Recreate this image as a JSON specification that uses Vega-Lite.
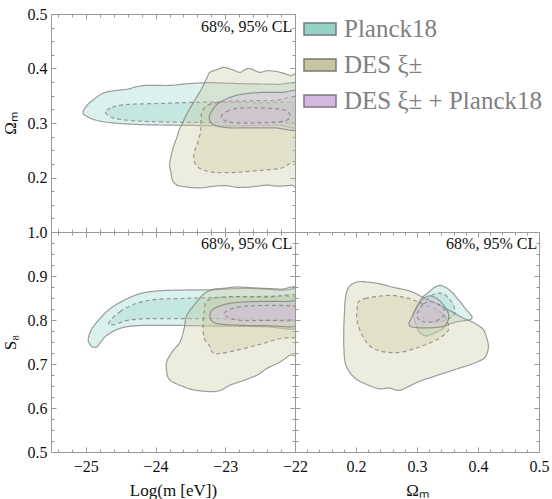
{
  "$schema": "https://vega.github.io/schema/vega-lite/v6.json",
  "background": "white",
  "padding": {"left": 0, "top": 5, "right": 0, "bottom": 0},
  "spacing": 0,
  "bounds": "flush",
  "config": {
    "font": "Liberation Serif",
    "view": {"stroke": "#9a9a9a", "strokeWidth": 1},
    "axis": {"grid": false, "domain": false, "tickColor": "#9a9a9a", "tickWidth": 1, "labelFont": "Liberation Serif", "labelFontSize": 16, "labelColor": "#111111", "titleFont": "Liberation Serif", "titleFontSize": 17, "titleFontWeight": "normal", "titleColor": "#111111", "labelFlush": false, "labelOverlap": false}
  },
  "datasets": {
    "notes": [
      {"panel": "A", "x": -22.04, "y": 0.467, "text": "68%, 95% CL"},
      {"panel": "B", "x": -22.04, "y": 0.961, "text": "68%, 95% CL"},
      {"panel": "C", "x": 0.497, "y": 0.961, "text": "68%, 95% CL"}
    ],
    "contours": [
      {"panel":"A","set":"Planck18","level":"95","i":0,"x":-25.04,"y":0.320},
      {"panel":"A","set":"Planck18","level":"95","i":1,"x":-24.98,"y":0.333},
      {"panel":"A","set":"Planck18","level":"95","i":2,"x":-24.87,"y":0.345},
      {"panel":"A","set":"Planck18","level":"95","i":3,"x":-24.75,"y":0.355},
      {"panel":"A","set":"Planck18","level":"95","i":4,"x":-24.61,"y":0.359},
      {"panel":"A","set":"Planck18","level":"95","i":5,"x":-24.41,"y":0.362},
      {"panel":"A","set":"Planck18","level":"95","i":6,"x":-24.26,"y":0.367},
      {"panel":"A","set":"Planck18","level":"95","i":7,"x":-24.12,"y":0.369},
      {"panel":"A","set":"Planck18","level":"95","i":8,"x":-23.79,"y":0.369},
      {"panel":"A","set":"Planck18","level":"95","i":9,"x":-23.55,"y":0.372},
      {"panel":"A","set":"Planck18","level":"95","i":10,"x":-23.22,"y":0.374},
      {"panel":"A","set":"Planck18","level":"95","i":11,"x":-22.73,"y":0.372},
      {"panel":"A","set":"Planck18","level":"95","i":12,"x":-22.26,"y":0.371},
      {"panel":"A","set":"Planck18","level":"95","i":13,"x":-21.9,"y":0.368},
      {"panel":"A","set":"Planck18","level":"95","i":14,"x":-21.9,"y":0.296},
      {"panel":"A","set":"Planck18","level":"95","i":15,"x":-22.26,"y":0.296},
      {"panel":"A","set":"Planck18","level":"95","i":16,"x":-22.73,"y":0.295},
      {"panel":"A","set":"Planck18","level":"95","i":17,"x":-23.2,"y":0.295},
      {"panel":"A","set":"Planck18","level":"95","i":18,"x":-23.7,"y":0.296},
      {"panel":"A","set":"Planck18","level":"95","i":19,"x":-24.2,"y":0.297},
      {"panel":"A","set":"Planck18","level":"95","i":20,"x":-24.6,"y":0.300},
      {"panel":"A","set":"Planck18","level":"95","i":21,"x":-24.85,"y":0.305},
      {"panel":"A","set":"Planck18","level":"95","i":22,"x":-25.0,"y":0.313},

      {"panel":"A","set":"Planck18","level":"68","i":0,"x":-24.72,"y":0.320},
      {"panel":"A","set":"Planck18","level":"68","i":1,"x":-24.62,"y":0.329},
      {"panel":"A","set":"Planck18","level":"68","i":2,"x":-24.4,"y":0.334},
      {"panel":"A","set":"Planck18","level":"68","i":3,"x":-23.9,"y":0.336},
      {"panel":"A","set":"Planck18","level":"68","i":4,"x":-23.4,"y":0.338},
      {"panel":"A","set":"Planck18","level":"68","i":5,"x":-22.9,"y":0.338},
      {"panel":"A","set":"Planck18","level":"68","i":6,"x":-22.4,"y":0.337},
      {"panel":"A","set":"Planck18","level":"68","i":7,"x":-21.9,"y":0.336},
      {"panel":"A","set":"Planck18","level":"68","i":8,"x":-21.9,"y":0.303},
      {"panel":"A","set":"Planck18","level":"68","i":9,"x":-22.4,"y":0.302},
      {"panel":"A","set":"Planck18","level":"68","i":10,"x":-22.9,"y":0.301},
      {"panel":"A","set":"Planck18","level":"68","i":11,"x":-23.4,"y":0.301},
      {"panel":"A","set":"Planck18","level":"68","i":12,"x":-23.9,"y":0.302},
      {"panel":"A","set":"Planck18","level":"68","i":13,"x":-24.3,"y":0.304},
      {"panel":"A","set":"Planck18","level":"68","i":14,"x":-24.6,"y":0.309},

      {"panel":"A","set":"DES ξ±","level":"95","i":0,"x":-23.26,"y":0.384},
      {"panel":"A","set":"DES ξ±","level":"95","i":1,"x":-23.22,"y":0.393},
      {"panel":"A","set":"DES ξ±","level":"95","i":2,"x":-23.12,"y":0.398},
      {"panel":"A","set":"DES ξ±","level":"95","i":3,"x":-23.02,"y":0.402},
      {"panel":"A","set":"DES ξ±","level":"95","i":4,"x":-22.9,"y":0.398},
      {"panel":"A","set":"DES ξ±","level":"95","i":5,"x":-22.79,"y":0.393},
      {"panel":"A","set":"DES ξ±","level":"95","i":6,"x":-22.72,"y":0.398},
      {"panel":"A","set":"DES ξ±","level":"95","i":7,"x":-22.65,"y":0.400},
      {"panel":"A","set":"DES ξ±","level":"95","i":8,"x":-22.57,"y":0.396},
      {"panel":"A","set":"DES ξ±","level":"95","i":9,"x":-22.5,"y":0.393},
      {"panel":"A","set":"DES ξ±","level":"95","i":10,"x":-22.4,"y":0.396},
      {"panel":"A","set":"DES ξ±","level":"95","i":11,"x":-22.3,"y":0.395},
      {"panel":"A","set":"DES ξ±","level":"95","i":12,"x":-22.21,"y":0.393},
      {"panel":"A","set":"DES ξ±","level":"95","i":13,"x":-22.07,"y":0.387},
      {"panel":"A","set":"DES ξ±","level":"95","i":14,"x":-21.9,"y":0.375},
      {"panel":"A","set":"DES ξ±","level":"95","i":15,"x":-21.9,"y":0.190},
      {"panel":"A","set":"DES ξ±","level":"95","i":16,"x":-22.05,"y":0.186},
      {"panel":"A","set":"DES ξ±","level":"95","i":17,"x":-22.26,"y":0.184},
      {"panel":"A","set":"DES ξ±","level":"95","i":18,"x":-22.4,"y":0.186},
      {"panel":"A","set":"DES ξ±","level":"95","i":19,"x":-22.54,"y":0.184},
      {"panel":"A","set":"DES ξ±","level":"95","i":20,"x":-22.7,"y":0.182},
      {"panel":"A","set":"DES ξ±","level":"95","i":21,"x":-22.83,"y":0.182},
      {"panel":"A","set":"DES ξ±","level":"95","i":22,"x":-23.0,"y":0.185},
      {"panel":"A","set":"DES ξ±","level":"95","i":23,"x":-23.16,"y":0.184},
      {"panel":"A","set":"DES ξ±","level":"95","i":24,"x":-23.35,"y":0.181},
      {"panel":"A","set":"DES ξ±","level":"95","i":25,"x":-23.51,"y":0.182},
      {"panel":"A","set":"DES ξ±","level":"95","i":26,"x":-23.69,"y":0.186},
      {"panel":"A","set":"DES ξ±","level":"95","i":27,"x":-23.76,"y":0.196},
      {"panel":"A","set":"DES ξ±","level":"95","i":28,"x":-23.78,"y":0.210},
      {"panel":"A","set":"DES ξ±","level":"95","i":29,"x":-23.8,"y":0.222},
      {"panel":"A","set":"DES ξ±","level":"95","i":30,"x":-23.78,"y":0.238},
      {"panel":"A","set":"DES ξ±","level":"95","i":31,"x":-23.74,"y":0.258},
      {"panel":"A","set":"DES ξ±","level":"95","i":32,"x":-23.69,"y":0.275},
      {"panel":"A","set":"DES ξ±","level":"95","i":33,"x":-23.66,"y":0.288},
      {"panel":"A","set":"DES ξ±","level":"95","i":34,"x":-23.62,"y":0.298},
      {"panel":"A","set":"DES ξ±","level":"95","i":35,"x":-23.57,"y":0.312},
      {"panel":"A","set":"DES ξ±","level":"95","i":36,"x":-23.52,"y":0.324},
      {"panel":"A","set":"DES ξ±","level":"95","i":37,"x":-23.46,"y":0.337},
      {"panel":"A","set":"DES ξ±","level":"95","i":38,"x":-23.4,"y":0.350},
      {"panel":"A","set":"DES ξ±","level":"95","i":39,"x":-23.33,"y":0.365},

      {"panel":"A","set":"DES ξ±","level":"68","i":0,"x":-23.33,"y":0.322},
      {"panel":"A","set":"DES ξ±","level":"68","i":1,"x":-23.25,"y":0.333},
      {"panel":"A","set":"DES ξ±","level":"68","i":2,"x":-23.1,"y":0.338},
      {"panel":"A","set":"DES ξ±","level":"68","i":3,"x":-22.9,"y":0.340},
      {"panel":"A","set":"DES ξ±","level":"68","i":4,"x":-22.6,"y":0.341},
      {"panel":"A","set":"DES ξ±","level":"68","i":5,"x":-22.3,"y":0.341},
      {"panel":"A","set":"DES ξ±","level":"68","i":6,"x":-21.9,"y":0.341},
      {"panel":"A","set":"DES ξ±","level":"68","i":7,"x":-21.9,"y":0.240},
      {"panel":"A","set":"DES ξ±","level":"68","i":8,"x":-22.05,"y":0.228},
      {"panel":"A","set":"DES ξ±","level":"68","i":9,"x":-22.2,"y":0.217},
      {"panel":"A","set":"DES ξ±","level":"68","i":10,"x":-22.5,"y":0.213},
      {"panel":"A","set":"DES ξ±","level":"68","i":11,"x":-22.9,"y":0.209},
      {"panel":"A","set":"DES ξ±","level":"68","i":12,"x":-23.2,"y":0.210},
      {"panel":"A","set":"DES ξ±","level":"68","i":13,"x":-23.38,"y":0.218},
      {"panel":"A","set":"DES ξ±","level":"68","i":14,"x":-23.45,"y":0.232},
      {"panel":"A","set":"DES ξ±","level":"68","i":15,"x":-23.44,"y":0.248},
      {"panel":"A","set":"DES ξ±","level":"68","i":16,"x":-23.38,"y":0.270},
      {"panel":"A","set":"DES ξ±","level":"68","i":17,"x":-23.35,"y":0.290},
      {"panel":"A","set":"DES ξ±","level":"68","i":18,"x":-23.35,"y":0.308},

      {"panel":"A","set":"DES ξ± + Planck18","level":"95","i":0,"x":-23.23,"y":0.311},
      {"panel":"A","set":"DES ξ± + Planck18","level":"95","i":1,"x":-23.18,"y":0.325},
      {"panel":"A","set":"DES ξ± + Planck18","level":"95","i":2,"x":-23.1,"y":0.336},
      {"panel":"A","set":"DES ξ± + Planck18","level":"95","i":3,"x":-22.93,"y":0.347},
      {"panel":"A","set":"DES ξ± + Planck18","level":"95","i":4,"x":-22.75,"y":0.353},
      {"panel":"A","set":"DES ξ± + Planck18","level":"95","i":5,"x":-22.5,"y":0.356},
      {"panel":"A","set":"DES ξ± + Planck18","level":"95","i":6,"x":-22.21,"y":0.356},
      {"panel":"A","set":"DES ξ± + Planck18","level":"95","i":7,"x":-21.9,"y":0.355},
      {"panel":"A","set":"DES ξ± + Planck18","level":"95","i":8,"x":-21.9,"y":0.291},
      {"panel":"A","set":"DES ξ± + Planck18","level":"95","i":9,"x":-22.3,"y":0.291},
      {"panel":"A","set":"DES ξ± + Planck18","level":"95","i":10,"x":-22.7,"y":0.291},
      {"panel":"A","set":"DES ξ± + Planck18","level":"95","i":11,"x":-22.93,"y":0.291},
      {"panel":"A","set":"DES ξ± + Planck18","level":"95","i":12,"x":-23.1,"y":0.294},
      {"panel":"A","set":"DES ξ± + Planck18","level":"95","i":13,"x":-23.2,"y":0.300},

      {"panel":"A","set":"DES ξ± + Planck18","level":"68","i":0,"x":-23.06,"y":0.312},
      {"panel":"A","set":"DES ξ± + Planck18","level":"68","i":1,"x":-22.98,"y":0.321},
      {"panel":"A","set":"DES ξ± + Planck18","level":"68","i":2,"x":-22.83,"y":0.327},
      {"panel":"A","set":"DES ξ± + Planck18","level":"68","i":3,"x":-22.6,"y":0.328},
      {"panel":"A","set":"DES ξ± + Planck18","level":"68","i":4,"x":-22.35,"y":0.327},
      {"panel":"A","set":"DES ξ± + Planck18","level":"68","i":5,"x":-22.16,"y":0.324},
      {"panel":"A","set":"DES ξ± + Planck18","level":"68","i":6,"x":-22.07,"y":0.315},
      {"panel":"A","set":"DES ξ± + Planck18","level":"68","i":7,"x":-22.12,"y":0.305},
      {"panel":"A","set":"DES ξ± + Planck18","level":"68","i":8,"x":-22.3,"y":0.301},
      {"panel":"A","set":"DES ξ± + Planck18","level":"68","i":9,"x":-22.6,"y":0.300},
      {"panel":"A","set":"DES ξ± + Planck18","level":"68","i":10,"x":-22.85,"y":0.300},
      {"panel":"A","set":"DES ξ± + Planck18","level":"68","i":11,"x":-23.0,"y":0.304},

      {"panel":"B","set":"Planck18","level":"95","i":0,"x":-24.91,"y":0.739},
      {"panel":"B","set":"Planck18","level":"95","i":1,"x":-24.96,"y":0.750},
      {"panel":"B","set":"Planck18","level":"95","i":2,"x":-24.96,"y":0.762},
      {"panel":"B","set":"Planck18","level":"95","i":3,"x":-24.91,"y":0.781},
      {"panel":"B","set":"Planck18","level":"95","i":4,"x":-24.8,"y":0.803},
      {"panel":"B","set":"Planck18","level":"95","i":5,"x":-24.65,"y":0.826},
      {"panel":"B","set":"Planck18","level":"95","i":6,"x":-24.45,"y":0.845},
      {"panel":"B","set":"Planck18","level":"95","i":7,"x":-24.22,"y":0.860},
      {"panel":"B","set":"Planck18","level":"95","i":8,"x":-23.98,"y":0.866},
      {"panel":"B","set":"Planck18","level":"95","i":9,"x":-23.65,"y":0.868},
      {"panel":"B","set":"Planck18","level":"95","i":10,"x":-23.16,"y":0.869},
      {"panel":"B","set":"Planck18","level":"95","i":11,"x":-22.69,"y":0.872},
      {"panel":"B","set":"Planck18","level":"95","i":12,"x":-22.21,"y":0.868},
      {"panel":"B","set":"Planck18","level":"95","i":13,"x":-21.9,"y":0.864},
      {"panel":"B","set":"Planck18","level":"95","i":14,"x":-21.9,"y":0.785},
      {"panel":"B","set":"Planck18","level":"95","i":15,"x":-22.44,"y":0.785},
      {"panel":"B","set":"Planck18","level":"95","i":16,"x":-22.93,"y":0.786},
      {"panel":"B","set":"Planck18","level":"95","i":17,"x":-23.41,"y":0.787},
      {"panel":"B","set":"Planck18","level":"95","i":18,"x":-23.88,"y":0.788},
      {"panel":"B","set":"Planck18","level":"95","i":19,"x":-24.27,"y":0.787},
      {"panel":"B","set":"Planck18","level":"95","i":20,"x":-24.51,"y":0.781},
      {"panel":"B","set":"Planck18","level":"95","i":21,"x":-24.7,"y":0.765},
      {"panel":"B","set":"Planck18","level":"95","i":22,"x":-24.8,"y":0.747},
      {"panel":"B","set":"Planck18","level":"95","i":23,"x":-24.84,"y":0.739},

      {"panel":"B","set":"Planck18","level":"68","i":0,"x":-24.67,"y":0.794},
      {"panel":"B","set":"Planck18","level":"68","i":1,"x":-24.51,"y":0.819},
      {"panel":"B","set":"Planck18","level":"68","i":2,"x":-24.27,"y":0.838},
      {"panel":"B","set":"Planck18","level":"68","i":3,"x":-23.98,"y":0.847},
      {"panel":"B","set":"Planck18","level":"68","i":4,"x":-23.59,"y":0.849},
      {"panel":"B","set":"Planck18","level":"68","i":5,"x":-23.16,"y":0.851},
      {"panel":"B","set":"Planck18","level":"68","i":6,"x":-22.69,"y":0.853},
      {"panel":"B","set":"Planck18","level":"68","i":7,"x":-21.9,"y":0.849},
      {"panel":"B","set":"Planck18","level":"68","i":8,"x":-21.9,"y":0.800},
      {"panel":"B","set":"Planck18","level":"68","i":9,"x":-22.69,"y":0.802},
      {"panel":"B","set":"Planck18","level":"68","i":10,"x":-23.16,"y":0.803},
      {"panel":"B","set":"Planck18","level":"68","i":11,"x":-23.65,"y":0.803},
      {"panel":"B","set":"Planck18","level":"68","i":12,"x":-24.12,"y":0.803},
      {"panel":"B","set":"Planck18","level":"68","i":13,"x":-24.41,"y":0.799},
      {"panel":"B","set":"Planck18","level":"68","i":14,"x":-24.6,"y":0.789},

      {"panel":"B","set":"DES ξ±","level":"95","i":0,"x":-23.3,"y":0.860},
      {"panel":"B","set":"DES ξ±","level":"95","i":1,"x":-23.16,"y":0.870},
      {"panel":"B","set":"DES ξ±","level":"95","i":2,"x":-23.02,"y":0.872},
      {"panel":"B","set":"DES ξ±","level":"95","i":3,"x":-22.85,"y":0.875},
      {"panel":"B","set":"DES ξ±","level":"95","i":4,"x":-22.69,"y":0.874},
      {"panel":"B","set":"DES ξ±","level":"95","i":5,"x":-22.45,"y":0.872},
      {"panel":"B","set":"DES ξ±","level":"95","i":6,"x":-22.21,"y":0.870},
      {"panel":"B","set":"DES ξ±","level":"95","i":7,"x":-21.9,"y":0.864},
      {"panel":"B","set":"DES ξ±","level":"95","i":8,"x":-21.9,"y":0.730},
      {"panel":"B","set":"DES ξ±","level":"95","i":9,"x":-22.07,"y":0.720},
      {"panel":"B","set":"DES ξ±","level":"95","i":10,"x":-22.21,"y":0.705},
      {"panel":"B","set":"DES ξ±","level":"95","i":11,"x":-22.4,"y":0.690},
      {"panel":"B","set":"DES ξ±","level":"95","i":12,"x":-22.54,"y":0.675},
      {"panel":"B","set":"DES ξ±","level":"95","i":13,"x":-22.73,"y":0.663},
      {"panel":"B","set":"DES ξ±","level":"95","i":14,"x":-22.93,"y":0.652},
      {"panel":"B","set":"DES ξ±","level":"95","i":15,"x":-23.12,"y":0.638},
      {"panel":"B","set":"DES ξ±","level":"95","i":16,"x":-23.41,"y":0.640},
      {"panel":"B","set":"DES ξ±","level":"95","i":17,"x":-23.59,"y":0.648},
      {"panel":"B","set":"DES ξ±","level":"95","i":18,"x":-23.79,"y":0.663},
      {"panel":"B","set":"DES ξ±","level":"95","i":19,"x":-23.84,"y":0.682},
      {"panel":"B","set":"DES ξ±","level":"95","i":20,"x":-23.84,"y":0.705},
      {"panel":"B","set":"DES ξ±","level":"95","i":21,"x":-23.76,"y":0.728},
      {"panel":"B","set":"DES ξ±","level":"95","i":22,"x":-23.65,"y":0.750},
      {"panel":"B","set":"DES ξ±","level":"95","i":23,"x":-23.59,"y":0.781},
      {"panel":"B","set":"DES ξ±","level":"95","i":24,"x":-23.55,"y":0.811},
      {"panel":"B","set":"DES ξ±","level":"95","i":25,"x":-23.41,"y":0.841},

      {"panel":"B","set":"DES ξ±","level":"68","i":0,"x":-23.26,"y":0.844},
      {"panel":"B","set":"DES ξ±","level":"68","i":1,"x":-23.05,"y":0.852},
      {"panel":"B","set":"DES ξ±","level":"68","i":2,"x":-22.83,"y":0.853},
      {"panel":"B","set":"DES ξ±","level":"68","i":3,"x":-22.4,"y":0.852},
      {"panel":"B","set":"DES ξ±","level":"68","i":4,"x":-21.9,"y":0.851},
      {"panel":"B","set":"DES ξ±","level":"68","i":5,"x":-21.9,"y":0.769},
      {"panel":"B","set":"DES ξ±","level":"68","i":6,"x":-22.21,"y":0.758},
      {"panel":"B","set":"DES ξ±","level":"68","i":7,"x":-22.54,"y":0.743},
      {"panel":"B","set":"DES ξ±","level":"68","i":8,"x":-22.93,"y":0.728},
      {"panel":"B","set":"DES ξ±","level":"68","i":9,"x":-23.16,"y":0.724},
      {"panel":"B","set":"DES ξ±","level":"68","i":10,"x":-23.23,"y":0.742},
      {"panel":"B","set":"DES ξ±","level":"68","i":11,"x":-23.3,"y":0.758},
      {"panel":"B","set":"DES ξ±","level":"68","i":12,"x":-23.32,"y":0.788},
      {"panel":"B","set":"DES ξ±","level":"68","i":13,"x":-23.3,"y":0.822},

      {"panel":"B","set":"DES ξ± + Planck18","level":"95","i":0,"x":-23.22,"y":0.810},
      {"panel":"B","set":"DES ξ± + Planck18","level":"95","i":1,"x":-23.16,"y":0.826},
      {"panel":"B","set":"DES ξ± + Planck18","level":"95","i":2,"x":-22.93,"y":0.838},
      {"panel":"B","set":"DES ξ± + Planck18","level":"95","i":3,"x":-22.54,"y":0.842},
      {"panel":"B","set":"DES ξ± + Planck18","level":"95","i":4,"x":-22.16,"y":0.842},
      {"panel":"B","set":"DES ξ± + Planck18","level":"95","i":5,"x":-21.9,"y":0.840},
      {"panel":"B","set":"DES ξ± + Planck18","level":"95","i":6,"x":-21.9,"y":0.789},
      {"panel":"B","set":"DES ξ± + Planck18","level":"95","i":7,"x":-22.44,"y":0.787},
      {"panel":"B","set":"DES ξ± + Planck18","level":"95","i":8,"x":-22.93,"y":0.789},
      {"panel":"B","set":"DES ξ± + Planck18","level":"95","i":9,"x":-23.16,"y":0.794},

      {"panel":"B","set":"DES ξ± + Planck18","level":"68","i":0,"x":-23.02,"y":0.814},
      {"panel":"B","set":"DES ξ± + Planck18","level":"68","i":1,"x":-22.83,"y":0.829},
      {"panel":"B","set":"DES ξ± + Planck18","level":"68","i":2,"x":-22.45,"y":0.833},
      {"panel":"B","set":"DES ξ± + Planck18","level":"68","i":3,"x":-21.95,"y":0.829},
      {"panel":"B","set":"DES ξ± + Planck18","level":"68","i":4,"x":-21.95,"y":0.803},
      {"panel":"B","set":"DES ξ± + Planck18","level":"68","i":5,"x":-22.45,"y":0.799},
      {"panel":"B","set":"DES ξ± + Planck18","level":"68","i":6,"x":-22.83,"y":0.800},

      {"panel":"C","set":"Planck18","level":"95","i":0,"x":0.295,"y":0.815},
      {"panel":"C","set":"Planck18","level":"95","i":1,"x":0.305,"y":0.845},
      {"panel":"C","set":"Planck18","level":"95","i":2,"x":0.318,"y":0.862},
      {"panel":"C","set":"Planck18","level":"95","i":3,"x":0.330,"y":0.875},
      {"panel":"C","set":"Planck18","level":"95","i":4,"x":0.341,"y":0.878},
      {"panel":"C","set":"Planck18","level":"95","i":5,"x":0.355,"y":0.866},
      {"panel":"C","set":"Planck18","level":"95","i":6,"x":0.368,"y":0.846},
      {"panel":"C","set":"Planck18","level":"95","i":7,"x":0.380,"y":0.825},
      {"panel":"C","set":"Planck18","level":"95","i":8,"x":0.390,"y":0.808},
      {"panel":"C","set":"Planck18","level":"95","i":9,"x":0.386,"y":0.800},
      {"panel":"C","set":"Planck18","level":"95","i":10,"x":0.370,"y":0.797},
      {"panel":"C","set":"Planck18","level":"95","i":11,"x":0.352,"y":0.790},
      {"panel":"C","set":"Planck18","level":"95","i":12,"x":0.340,"y":0.778},
      {"panel":"C","set":"Planck18","level":"95","i":13,"x":0.325,"y":0.768},
      {"panel":"C","set":"Planck18","level":"95","i":14,"x":0.313,"y":0.764},
      {"panel":"C","set":"Planck18","level":"95","i":15,"x":0.303,"y":0.775},
      {"panel":"C","set":"Planck18","level":"95","i":16,"x":0.297,"y":0.795},

      {"panel":"C","set":"Planck18","level":"68","i":0,"x":0.305,"y":0.822},
      {"panel":"C","set":"Planck18","level":"68","i":1,"x":0.315,"y":0.845},
      {"panel":"C","set":"Planck18","level":"68","i":2,"x":0.330,"y":0.860},
      {"panel":"C","set":"Planck18","level":"68","i":3,"x":0.345,"y":0.858},
      {"panel":"C","set":"Planck18","level":"68","i":4,"x":0.358,"y":0.838},
      {"panel":"C","set":"Planck18","level":"68","i":5,"x":0.362,"y":0.815},
      {"panel":"C","set":"Planck18","level":"68","i":6,"x":0.348,"y":0.800},
      {"panel":"C","set":"Planck18","level":"68","i":7,"x":0.328,"y":0.795},
      {"panel":"C","set":"Planck18","level":"68","i":8,"x":0.312,"y":0.802},

      {"panel":"C","set":"DES ξ±","level":"95","i":0,"x":0.191,"y":0.879},
      {"panel":"C","set":"DES ξ±","level":"95","i":1,"x":0.204,"y":0.887},
      {"panel":"C","set":"DES ξ±","level":"95","i":2,"x":0.221,"y":0.886},
      {"panel":"C","set":"DES ξ±","level":"95","i":3,"x":0.240,"y":0.882},
      {"panel":"C","set":"DES ξ±","level":"95","i":4,"x":0.259,"y":0.875},
      {"panel":"C","set":"DES ξ±","level":"95","i":5,"x":0.276,"y":0.870},
      {"panel":"C","set":"DES ξ±","level":"95","i":6,"x":0.292,"y":0.864},
      {"panel":"C","set":"DES ξ±","level":"95","i":7,"x":0.313,"y":0.849},
      {"panel":"C","set":"DES ξ±","level":"95","i":8,"x":0.335,"y":0.835},
      {"panel":"C","set":"DES ξ±","level":"95","i":9,"x":0.357,"y":0.819},
      {"panel":"C","set":"DES ξ±","level":"95","i":10,"x":0.375,"y":0.805},
      {"panel":"C","set":"DES ξ±","level":"95","i":11,"x":0.390,"y":0.796},
      {"panel":"C","set":"DES ξ±","level":"95","i":12,"x":0.407,"y":0.781},
      {"panel":"C","set":"DES ξ±","level":"95","i":13,"x":0.413,"y":0.765},
      {"panel":"C","set":"DES ξ±","level":"95","i":14,"x":0.417,"y":0.743},
      {"panel":"C","set":"DES ξ±","level":"95","i":15,"x":0.415,"y":0.725},
      {"panel":"C","set":"DES ξ±","level":"95","i":16,"x":0.409,"y":0.712},
      {"panel":"C","set":"DES ξ±","level":"95","i":17,"x":0.390,"y":0.700},
      {"panel":"C","set":"DES ξ±","level":"95","i":18,"x":0.368,"y":0.690},
      {"panel":"C","set":"DES ξ±","level":"95","i":19,"x":0.335,"y":0.675},
      {"panel":"C","set":"DES ξ±","level":"95","i":20,"x":0.303,"y":0.660},
      {"panel":"C","set":"DES ξ±","level":"95","i":21,"x":0.285,"y":0.648},
      {"panel":"C","set":"DES ξ±","level":"95","i":22,"x":0.270,"y":0.640},
      {"panel":"C","set":"DES ξ±","level":"95","i":23,"x":0.255,"y":0.645},
      {"panel":"C","set":"DES ξ±","level":"95","i":24,"x":0.237,"y":0.644},
      {"panel":"C","set":"DES ξ±","level":"95","i":25,"x":0.215,"y":0.655},
      {"panel":"C","set":"DES ξ±","level":"95","i":26,"x":0.199,"y":0.667},
      {"panel":"C","set":"DES ξ±","level":"95","i":27,"x":0.188,"y":0.685},
      {"panel":"C","set":"DES ξ±","level":"95","i":28,"x":0.182,"y":0.705},
      {"panel":"C","set":"DES ξ±","level":"95","i":29,"x":0.180,"y":0.740},
      {"panel":"C","set":"DES ξ±","level":"95","i":30,"x":0.180,"y":0.781},
      {"panel":"C","set":"DES ξ±","level":"95","i":31,"x":0.181,"y":0.815},
      {"panel":"C","set":"DES ξ±","level":"95","i":32,"x":0.182,"y":0.841},
      {"panel":"C","set":"DES ξ±","level":"95","i":33,"x":0.185,"y":0.865},

      {"panel":"C","set":"DES ξ±","level":"68","i":0,"x":0.204,"y":0.841},
      {"panel":"C","set":"DES ξ±","level":"68","i":1,"x":0.215,"y":0.849},
      {"panel":"C","set":"DES ξ±","level":"68","i":2,"x":0.232,"y":0.853},
      {"panel":"C","set":"DES ξ±","level":"68","i":3,"x":0.259,"y":0.856},
      {"panel":"C","set":"DES ξ±","level":"68","i":4,"x":0.286,"y":0.849},
      {"panel":"C","set":"DES ξ±","level":"68","i":5,"x":0.314,"y":0.834},
      {"panel":"C","set":"DES ξ±","level":"68","i":6,"x":0.341,"y":0.815},
      {"panel":"C","set":"DES ξ±","level":"68","i":7,"x":0.352,"y":0.781},
      {"panel":"C","set":"DES ξ±","level":"68","i":8,"x":0.336,"y":0.758},
      {"panel":"C","set":"DES ξ±","level":"68","i":9,"x":0.303,"y":0.738},
      {"panel":"C","set":"DES ξ±","level":"68","i":10,"x":0.267,"y":0.726},
      {"panel":"C","set":"DES ξ±","level":"68","i":11,"x":0.232,"y":0.733},
      {"panel":"C","set":"DES ξ±","level":"68","i":12,"x":0.213,"y":0.758},
      {"panel":"C","set":"DES ξ±","level":"68","i":13,"x":0.202,"y":0.796},
      {"panel":"C","set":"DES ξ±","level":"68","i":14,"x":0.202,"y":0.826},

      {"panel":"C","set":"DES ξ± + Planck18","level":"95","i":0,"x":0.287,"y":0.792},
      {"panel":"C","set":"DES ξ± + Planck18","level":"95","i":1,"x":0.292,"y":0.808},
      {"panel":"C","set":"DES ξ± + Planck18","level":"95","i":2,"x":0.297,"y":0.822},
      {"panel":"C","set":"DES ξ± + Planck18","level":"95","i":3,"x":0.311,"y":0.849},
      {"panel":"C","set":"DES ξ± + Planck18","level":"95","i":4,"x":0.325,"y":0.854},
      {"panel":"C","set":"DES ξ± + Planck18","level":"95","i":5,"x":0.341,"y":0.838},
      {"panel":"C","set":"DES ξ± + Planck18","level":"95","i":6,"x":0.352,"y":0.811},
      {"panel":"C","set":"DES ξ± + Planck18","level":"95","i":7,"x":0.346,"y":0.788},
      {"panel":"C","set":"DES ξ± + Planck18","level":"95","i":8,"x":0.330,"y":0.783},
      {"panel":"C","set":"DES ξ± + Planck18","level":"95","i":9,"x":0.314,"y":0.782},
      {"panel":"C","set":"DES ξ± + Planck18","level":"95","i":10,"x":0.292,"y":0.784},

      {"panel":"C","set":"DES ξ± + Planck18","level":"68","i":0,"x":0.300,"y":0.814},
      {"panel":"C","set":"DES ξ± + Planck18","level":"68","i":1,"x":0.311,"y":0.837},
      {"panel":"C","set":"DES ξ± + Planck18","level":"68","i":2,"x":0.327,"y":0.841},
      {"panel":"C","set":"DES ξ± + Planck18","level":"68","i":3,"x":0.344,"y":0.825},
      {"panel":"C","set":"DES ξ± + Planck18","level":"68","i":4,"x":0.341,"y":0.806},
      {"panel":"C","set":"DES ξ± + Planck18","level":"68","i":5,"x":0.322,"y":0.795},
      {"panel":"C","set":"DES ξ± + Planck18","level":"68","i":6,"x":0.305,"y":0.799}
    ]
  },
  "resolve": {"scale": {"fill": "independent", "strokeDash": "independent"}, "legend": {"fill": "independent", "strokeDash": "independent"}},
  "vconcat": [
    {
      "width": 244,
      "height": 218,
      "resolve": {"axis": {"x": "independent", "y": "independent"}},
      "layer": [
        {
          "data": {"name": "contours"},
          "transform": [{"filter": "datum.panel === 'A'"}],
          "mark": {"type": "line", "interpolate": "cardinal-closed", "clip": true, "fillOpacity": 0.32, "stroke": "#7a7a7a", "strokeWidth": 1.2, "strokeOpacity": 0.72},
          "encoding": {
            "x": {"field": "x", "type": "quantitative", "scale": {"domain": [-25.5, -22], "nice": false, "zero": false},
                  "axis": {"orient": "bottom", "values": [-25, -24, -23, -22], "labels": false, "tickSize": -5, "title": null}},
            "y": {"field": "y", "type": "quantitative", "scale": {"domain": [0.1, 0.5], "nice": false, "zero": false},
                  "axis": {"orient": "left", "values": [0.1, 0.2, 0.3, 0.4, 0.5], "labelExpr": "datum.value < 0.15 ? '' : format(datum.value, '.1f')", "tickSize": -5, "labelPadding": 9, "title": "Ωₘ", "titlePadding": 8}},
            "fill": {"field": "set", "type": "nominal",
                     "scale": {"domain": ["Planck18", "DES ξ±", "DES ξ± + Planck18"], "range": ["#93d2c6", "#c7c69c", "#d6b7e0"]},
                     "legend": {"orient": "none", "legendX": 252, "legendY": -2, "title": null, "padding": 0,
                                "symbolType": "M-1,-0.38H1V0.38H-1Z", "symbolSize": 1024,
                                "labelFont": "Liberation Serif", "labelFontSize": 25, "labelColor": "#808080",
                                "labelOffset": 7, "rowPadding": 6, "labelLimit": 400,
                                "encode": {"symbols": {"update": {"stroke": {"value": "rgba(0,0,0,0.12)"}, "strokeWidth": {"value": 1}, "fillOpacity": {"value": 0.95}, "opacity": {"value": 1}, "strokeDash": {"value": [1, 0]}}}}}},
            "strokeDash": {"field": "level", "type": "nominal", "scale": {"domain": ["95", "68"], "range": [[1, 0], [4, 3]]}, "legend": null},
            "order": {"field": "i", "type": "quantitative"}
          }
        },
        {
          "data": {"name": "notes"},
          "transform": [{"filter": "datum.panel === 'A'"}],
          "mark": {"type": "text", "align": "right", "baseline": "alphabetic", "font": "Liberation Serif", "fontSize": 16, "color": "#111111"},
          "encoding": {
            "x": {"field": "x", "type": "quantitative", "scale": {"domain": [-25.5, -22], "nice": false, "zero": false},
                  "axis": {"orient": "top", "values": [-25, -24, -23, -22], "labels": false, "tickSize": -5, "title": null}},
            "y": {"field": "y", "type": "quantitative", "scale": {"domain": [0.1, 0.5], "nice": false, "zero": false},
                  "axis": {"orient": "right", "values": [0.1, 0.2, 0.3, 0.4, 0.5], "labels": false, "tickSize": -5, "title": null}},
            "text": {"field": "text"}
          }
        },
        {
          "data": {"name": "notes"},
          "transform": [{"filter": "datum.panel === 'A'"}],
          "mark": {"type": "point", "opacity": 0},
          "encoding": {
            "x": {"field": "x", "type": "quantitative", "scale": {"domain": [-25.5, -22], "nice": false, "zero": false},
                  "axis": {"orient": "bottom", "values": [-25.4, -25.2, -24.8, -24.6, -24.4, -24.2, -23.8, -23.6, -23.4, -23.2, -22.8, -22.6, -22.4, -22.2], "labels": false, "tickSize": -3, "title": null}},
            "y": {"field": "y", "type": "quantitative", "scale": {"domain": [0.1, 0.5], "nice": false, "zero": false},
                  "axis": {"orient": "left", "values": [0.125, 0.15, 0.175, 0.225, 0.25, 0.275, 0.325, 0.35, 0.375, 0.425, 0.45, 0.475], "labels": false, "tickSize": -3, "title": null}}
          }
        },
        {
          "data": {"name": "notes"},
          "transform": [{"filter": "datum.panel === 'A'"}],
          "mark": {"type": "point", "opacity": 0},
          "encoding": {
            "x": {"field": "x", "type": "quantitative", "scale": {"domain": [-25.5, -22], "nice": false, "zero": false},
                  "axis": {"orient": "top", "values": [-25.4, -25.2, -24.8, -24.6, -24.4, -24.2, -23.8, -23.6, -23.4, -23.2, -22.8, -22.6, -22.4, -22.2], "labels": false, "tickSize": -3, "title": null}},
            "y": {"field": "y", "type": "quantitative", "scale": {"domain": [0.1, 0.5], "nice": false, "zero": false},
                  "axis": {"orient": "right", "values": [0.125, 0.15, 0.175, 0.225, 0.25, 0.275, 0.325, 0.35, 0.375, 0.425, 0.45, 0.475], "labels": false, "tickSize": -3, "title": null}}
          }
        }
      ]
    },
    {
      "spacing": 0,
      "bounds": "flush",
      "resolve": {"scale": {"fill": "independent", "strokeDash": "independent"}, "legend": {"fill": "independent", "strokeDash": "independent"}},
      "hconcat": [
        {
          "width": 244,
          "height": 220,
          "resolve": {"axis": {"x": "independent", "y": "independent"}},
          "layer": [
            {
              "data": {"name": "contours"},
              "transform": [{"filter": "datum.panel === 'B'"}],
              "mark": {"type": "line", "interpolate": "cardinal-closed", "clip": true, "fillOpacity": 0.32, "stroke": "#7a7a7a", "strokeWidth": 1.2, "strokeOpacity": 0.72},
              "encoding": {
                "x": {"field": "x", "type": "quantitative", "scale": {"domain": [-25.5, -22], "nice": false, "zero": false},
                      "axis": {"orient": "bottom", "values": [-25, -24, -23, -22], "tickSize": -5, "labelPadding": 11, "title": "Log(m [eV])", "titlePadding": 8}},
                "y": {"field": "y", "type": "quantitative", "scale": {"domain": [0.5, 1.0], "nice": false, "zero": false},
                      "axis": {"orient": "left", "values": [0.5, 0.6, 0.7, 0.8, 0.9, 1.0], "format": ".1f", "tickSize": -5, "labelPadding": 9, "title": "S₈", "titlePadding": 8}},
                "fill": {"field": "set", "type": "nominal", "scale": {"domain": ["Planck18", "DES ξ±", "DES ξ± + Planck18"], "range": ["#93d2c6", "#c7c69c", "#d6b7e0"]}, "legend": null},
                "strokeDash": {"field": "level", "type": "nominal", "scale": {"domain": ["95", "68"], "range": [[1, 0], [4, 3]]}, "legend": null},
                "order": {"field": "i", "type": "quantitative"}
              }
            },
            {
              "data": {"name": "notes"},
              "transform": [{"filter": "datum.panel === 'B'"}],
              "mark": {"type": "text", "align": "right", "baseline": "alphabetic", "font": "Liberation Serif", "fontSize": 16, "color": "#111111"},
              "encoding": {
                "x": {"field": "x", "type": "quantitative", "scale": {"domain": [-25.5, -22], "nice": false, "zero": false},
                      "axis": {"orient": "top", "values": [-25, -24, -23, -22], "labels": false, "tickSize": -5, "title": null}},
                "y": {"field": "y", "type": "quantitative", "scale": {"domain": [0.5, 1.0], "nice": false, "zero": false},
                      "axis": {"orient": "right", "values": [0.5, 0.6, 0.7, 0.8, 0.9, 1.0], "labels": false, "tickSize": -5, "title": null}},
                "text": {"field": "text"}
              }
            },
            {
              "data": {"name": "notes"},
              "transform": [{"filter": "datum.panel === 'B'"}],
              "mark": {"type": "point", "opacity": 0},
              "encoding": {
                "x": {"field": "x", "type": "quantitative", "scale": {"domain": [-25.5, -22], "nice": false, "zero": false},
                      "axis": {"orient": "bottom", "values": [-25.4, -25.2, -24.8, -24.6, -24.4, -24.2, -23.8, -23.6, -23.4, -23.2, -22.8, -22.6, -22.4, -22.2], "labels": false, "tickSize": -3, "title": null}},
                "y": {"field": "y", "type": "quantitative", "scale": {"domain": [0.5, 1.0], "nice": false, "zero": false},
                      "axis": {"orient": "left", "values": [0.525, 0.55, 0.575, 0.625, 0.65, 0.675, 0.725, 0.75, 0.775, 0.825, 0.85, 0.875, 0.925, 0.95, 0.975], "labels": false, "tickSize": -3, "title": null}}
              }
            },
            {
              "data": {"name": "notes"},
              "transform": [{"filter": "datum.panel === 'B'"}],
              "mark": {"type": "point", "opacity": 0},
              "encoding": {
                "x": {"field": "x", "type": "quantitative", "scale": {"domain": [-25.5, -22], "nice": false, "zero": false},
                      "axis": {"orient": "top", "values": [-25.4, -25.2, -24.8, -24.6, -24.4, -24.2, -23.8, -23.6, -23.4, -23.2, -22.8, -22.6, -22.4, -22.2], "labels": false, "tickSize": -3, "title": null}},
                "y": {"field": "y", "type": "quantitative", "scale": {"domain": [0.5, 1.0], "nice": false, "zero": false},
                      "axis": {"orient": "right", "values": [0.525, 0.55, 0.575, 0.625, 0.65, 0.675, 0.725, 0.75, 0.775, 0.825, 0.85, 0.875, 0.925, 0.95, 0.975], "labels": false, "tickSize": -3, "title": null}}
              }
            }
          ]
        },
        {
          "width": 244,
          "height": 220,
          "resolve": {"axis": {"x": "independent", "y": "independent"}},
          "layer": [
            {
              "data": {"name": "contours"},
              "transform": [{"filter": "datum.panel === 'C'"}],
              "mark": {"type": "line", "interpolate": "cardinal-closed", "clip": true, "fillOpacity": 0.32, "stroke": "#7a7a7a", "strokeWidth": 1.2, "strokeOpacity": 0.72},
              "encoding": {
                "x": {"field": "x", "type": "quantitative", "scale": {"domain": [0.1, 0.5], "nice": false, "zero": false},
                      "axis": {"orient": "bottom", "values": [0.1, 0.2, 0.3, 0.4, 0.5], "labelExpr": "datum.value < 0.15 ? '' : format(datum.value, '.1f')", "tickSize": -5, "labelPadding": 11, "title": "Ωₘ", "titlePadding": 8}},
                "y": {"field": "y", "type": "quantitative", "scale": {"domain": [0.5, 1.0], "nice": false, "zero": false},
                      "axis": {"orient": "left", "values": [0.5, 0.6, 0.7, 0.8, 0.9, 1.0], "labels": false, "tickSize": -5, "title": null}},
                "fill": {"field": "set", "type": "nominal", "scale": {"domain": ["Planck18", "DES ξ±", "DES ξ± + Planck18"], "range": ["#93d2c6", "#c7c69c", "#d6b7e0"]}, "legend": null},
                "strokeDash": {"field": "level", "type": "nominal", "scale": {"domain": ["95", "68"], "range": [[1, 0], [4, 3]]}, "legend": null},
                "order": {"field": "i", "type": "quantitative"}
              }
            },
            {
              "data": {"name": "notes"},
              "transform": [{"filter": "datum.panel === 'C'"}],
              "mark": {"type": "text", "align": "right", "baseline": "alphabetic", "font": "Liberation Serif", "fontSize": 16, "color": "#111111"},
              "encoding": {
                "x": {"field": "x", "type": "quantitative", "scale": {"domain": [0.1, 0.5], "nice": false, "zero": false},
                      "axis": {"orient": "top", "values": [0.1, 0.2, 0.3, 0.4, 0.5], "labels": false, "tickSize": -5, "title": null}},
                "y": {"field": "y", "type": "quantitative", "scale": {"domain": [0.5, 1.0], "nice": false, "zero": false},
                      "axis": {"orient": "right", "values": [0.5, 0.6, 0.7, 0.8, 0.9, 1.0], "labels": false, "tickSize": -5, "title": null}},
                "text": {"field": "text"}
              }
            },
            {
              "data": {"name": "notes"},
              "transform": [{"filter": "datum.panel === 'C'"}],
              "mark": {"type": "point", "opacity": 0},
              "encoding": {
                "x": {"field": "x", "type": "quantitative", "scale": {"domain": [0.1, 0.5], "nice": false, "zero": false},
                      "axis": {"orient": "bottom", "values": [0.12, 0.14, 0.16, 0.18, 0.22, 0.24, 0.26, 0.28, 0.32, 0.34, 0.36, 0.38, 0.42, 0.44, 0.46, 0.48], "labels": false, "tickSize": -3, "title": null}},
                "y": {"field": "y", "type": "quantitative", "scale": {"domain": [0.5, 1.0], "nice": false, "zero": false},
                      "axis": {"orient": "left", "values": [0.525, 0.55, 0.575, 0.625, 0.65, 0.675, 0.725, 0.75, 0.775, 0.825, 0.85, 0.875, 0.925, 0.95, 0.975], "labels": false, "tickSize": -3, "title": null}}
              }
            },
            {
              "data": {"name": "notes"},
              "transform": [{"filter": "datum.panel === 'C'"}],
              "mark": {"type": "point", "opacity": 0},
              "encoding": {
                "x": {"field": "x", "type": "quantitative", "scale": {"domain": [0.1, 0.5], "nice": false, "zero": false},
                      "axis": {"orient": "top", "values": [0.12, 0.14, 0.16, 0.18, 0.22, 0.24, 0.26, 0.28, 0.32, 0.34, 0.36, 0.38, 0.42, 0.44, 0.46, 0.48], "labels": false, "tickSize": -3, "title": null}},
                "y": {"field": "y", "type": "quantitative", "scale": {"domain": [0.5, 1.0], "nice": false, "zero": false},
                      "axis": {"orient": "right", "values": [0.525, 0.55, 0.575, 0.625, 0.65, 0.675, 0.725, 0.75, 0.775, 0.825, 0.85, 0.875, 0.925, 0.95, 0.975], "labels": false, "tickSize": -3, "title": null}}
              }
            }
          ]
        }
      ]
    }
  ]
}
